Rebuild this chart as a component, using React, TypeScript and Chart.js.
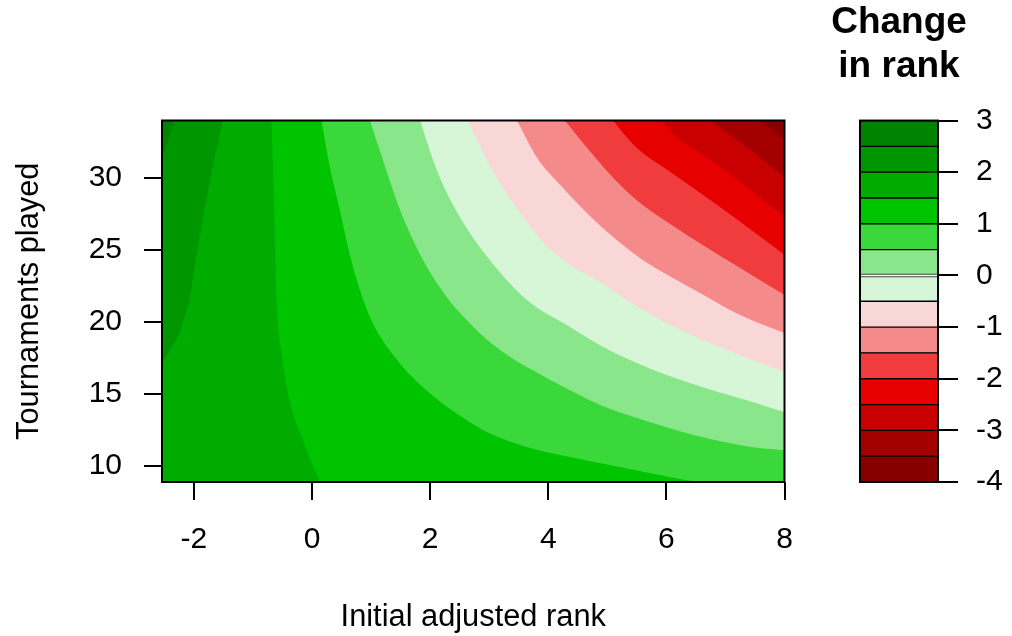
import React, { useEffect, useRef } from "react";
import { Chart, registerables } from "chart.js";

Chart.register(...registerables);

// Plot extent (initial adjusted rank × tournaments played)
const X_MIN = -2.54;
const X_MAX = 8;
const Y_MIN = 8.9;
const Y_MAX = 34;

const xTicks = [-2, 0, 2, 4, 6, 8];
const yTicks = [10, 15, 20, 25, 30];
const legendTicks = [-4, -3, -2, -1, 0, 1, 2, 3];

// Contour break points for change in rank
const levels = [-4, -3.5, -3, -2.5, -2, -1.5, -1, -0.5, 0, 0.5, 1, 1.5, 2, 2.5, 3];

// One colour per band, from [-4, -3.5] up to [2.5, 3]
const bandColors = [
  "#870000",
  "#A50000",
  "#C80000",
  "#E60000",
  "#F03C3C",
  "#F58A8A",
  "#FAD7D7",
  "#D7F5D7",
  "#8AE68A",
  "#3AD83A",
  "#00C400",
  "#00AC00",
  "#009600",
  "#008400",
];

// Contour lines [x, y]; each starts on the top edge of the plot
const contour25 = [[-2.33, 34], [-2.44, 32.67], [-2.54, 31.28]];
const contour20 = [
  [-1.51, 34], [-1.68, 30.81], [-1.82, 27.8], [-1.96, 24.55], [-2.07, 21.54],
  [-2.24, 19.24], [-2.5, 17.36], [-2.54, 17.15],
];
const contour15 = [
  [-0.69, 34], [-0.66, 30.81], [-0.63, 26.18], [-0.6, 21.54], [-0.52, 18.06],
  [-0.38, 14.58], [-0.15, 11.8], [0.13, 9.03], [0.16, 8.9],
];
const contour10 = [
  [0.16, 34], [0.3, 30.81], [0.47, 27.8], [0.64, 24.67], [0.81, 22.23],
  [1.03, 19.92], [1.49, 17.13], [2.0, 15.05], [2.45, 13.65], [3.01, 12.26],
  [3.63, 11.33], [4.37, 10.63], [4.93, 10.17], [5.78, 9.48], [6.69, 8.9],
];
const contour05 = [
  [0.98, 34], [1.2, 31.28], [1.49, 27.8], [1.88, 24.32], [2.28, 21.75],
  [2.62, 20.15], [3.01, 18.62], [3.44, 17.36], [3.86, 16.39], [4.37, 15.27],
  [4.93, 14.16], [5.78, 12.98], [6.62, 12.0], [7.47, 11.31], [8, 11.1],
];
const contour00 = [
  [1.83, 34], [2.11, 30.58], [2.5, 27.31], [3.01, 24.32], [3.64, 21.54],
  [4.37, 19.66], [4.93, 18.27], [5.78, 16.67], [6.62, 15.48], [7.47, 14.44],
  [8, 13.74],
];
const contourM05 = [
  [2.64, 34], [3.01, 30.86], [3.47, 27.87], [3.91, 25.57], [4.37, 23.97],
  [4.88, 22.79], [5.33, 21.54], [5.78, 20.42], [6.62, 18.75], [7.47, 17.36],
  [8, 16.53],
];
const contourM10 = [
  [3.47, 34], [3.81, 31.42], [4.2, 29.54], [4.88, 26.69], [5.55, 24.46],
  [6.11, 23.07], [6.69, 21.75], [7.25, 20.49], [8, 19.24],
];
const contourM15 = [
  [4.28, 34], [4.71, 31.84], [5.13, 29.89], [5.55, 28.29], [6.11, 26.69],
  [6.69, 25.16], [7.25, 23.76], [8, 21.89],
];
const contourM20 = [
  [5.1, 34], [5.32, 32.88], [5.55, 31.91], [6.11, 30.31], [6.69, 28.64],
  [7.25, 26.97], [8, 24.67],
];
const contourM25 = [[5.93, 34], [6.11, 33.09], [6.69, 31.42], [7.25, 29.75], [8, 27.31]];
const contourM30 = [[6.74, 34], [7.37, 32.12], [8, 30.03]];
const contourM35 = [[7.59, 34], [8, 32.67]];

// Contour for each break, from 2.5 down to -3.5 (null = whole plot, below 3)
const contoursByLevel: (number[][] | null)[] = [
  null,
  contour25,
  contour20,
  contour15,
  contour10,
  contour05,
  contour00,
  contourM05,
  contourM10,
  contourM15,
  contourM20,
  contourM25,
  contourM30,
  contourM35,
];

const FONT = "'Liberation Sans', Arial, Helvetica, sans-serif";
const INK = "#000";

const near = (a: number, b: number) => Math.abs(a - b) < 1e-6;

// Area where the value lies below a contour, as a line dataset filled
// towards the plot edge on the low-value side.
function regionBelow(curve: number[][] | null) {
  if (!curve) {
    return { pts: [[X_MIN, Y_MIN], [X_MAX, Y_MIN]], fill: "end", smooth: false };
  }
  const [lx, ly] = curve[curve.length - 1];
  if (near(lx, X_MIN)) {
    // runs from the top edge to the left edge: fill everything beneath it
    const pts = curve.slice().reverse();
    pts.push([X_MAX, Y_MAX]);
    return { pts, fill: "start", smooth: false };
  }
  if (near(ly, Y_MIN)) {
    // runs from the top edge to the bottom edge
    return { pts: [...curve, [X_MAX, Y_MIN]], fill: "end", smooth: true };
  }
  // runs from the top edge to the right edge
  return { pts: curve.slice(), fill: "end", smooth: true };
}

const plotFrame = {
  id: "plotFrame",
  afterDatasetsDraw(chart: any) {
    const { ctx, chartArea: a } = chart;
    ctx.save();
    ctx.strokeStyle = INK;
    ctx.lineWidth = 2;
    ctx.strokeRect(a.left, a.top, a.right - a.left, a.bottom - a.top);
    ctx.restore();
  },
};

const tickFont = { family: FONT, size: 30, lineHeight: 1.2 };
const titleFont = { family: FONT, size: 30.8, lineHeight: 1.2 };

const noEdgePadding = (s: any) => {
  s.paddingLeft = 0;
  s.paddingRight = 0;
  s.paddingTop = 0;
  s.paddingBottom = 0;
};

const PANEL_W = 820;

function ContourPanel() {
  const ref = useRef<HTMLCanvasElement | null>(null);
  useEffect(() => {
    if (!ref.current) return;
    const nBands = bandColors.length;
    // outermost region first in this list; reversed so inner regions paint on top
    const datasets = contoursByLevel
      .map((curve, i) => {
        const r = regionBelow(curve);
        return {
          data: r.pts.map(([x, y]) => ({ x, y })),
          backgroundColor: bandColors[nBands - 1 - i],
          borderColor: "rgba(0,0,0,0)",
          borderWidth: 0,
          pointRadius: 0,
          tension: 0,
          cubicInterpolationMode: r.smooth ? "monotone" : "default",
          fill: r.fill,
        };
      })
      .reverse();

    const chart = new Chart(ref.current, {
      type: "line",
      data: { datasets } as any,
      options: {
        responsive: false,
        animation: false,
        devicePixelRatio: 1,
        layout: {
          autoPadding: false,
          padding: { top: 120.5, right: PANEL_W - 784.5, left: 0, bottom: 0 },
        },
        plugins: {
          legend: { display: false },
          tooltip: { enabled: false },
          title: { display: false },
        },
        scales: {
          x: {
            type: "linear",
            min: X_MIN,
            max: X_MAX,
            afterBuildTicks: (s: any) => {
              s.ticks = xTicks.map((v) => ({ value: v }));
            },
            afterFit: (s: any) => {
              s.height = 154;
              noEdgePadding(s);
            },
            grid: {
              drawOnChartArea: false,
              drawTicks: true,
              tickLength: 18,
              color: INK,
              lineWidth: 2,
            },
            border: { display: false },
            ticks: {
              font: tickFont,
              color: INK,
              padding: 22,
              maxRotation: 0,
              autoSkip: false,
              callback: (v: any) => String(v),
            },
            title: {
              display: true,
              text: "Initial adjusted rank",
              font: titleFont,
              color: INK,
              padding: { top: 0, bottom: 0 },
            },
          },
          y: {
            type: "linear",
            min: Y_MIN,
            max: Y_MAX,
            afterBuildTicks: (s: any) => {
              s.ticks = yTicks.map((v) => ({ value: v }));
            },
            afterFit: (s: any) => {
              s.width = 162;
              noEdgePadding(s);
            },
            grid: {
              drawOnChartArea: false,
              drawTicks: true,
              tickLength: 18,
              color: INK,
              lineWidth: 2,
            },
            border: { display: false },
            ticks: {
              font: tickFont,
              color: INK,
              padding: 22,
              autoSkip: false,
              callback: (v: any) => String(v),
            },
            title: {
              display: true,
              text: "Tournaments played",
              font: titleFont,
              color: INK,
              padding: { top: 11.4, bottom: 0 },
            },
          },
        },
      } as any,
      plugins: [plotFrame],
    });
    return () => chart.destroy();
  }, []);
  return (
    <canvas
      ref={ref}
      width={PANEL_W}
      height={636}
      style={{ position: "absolute", left: 0, top: 0, width: PANEL_W, height: 636 }}
    />
  );
}

function ColorKey() {
  const ref = useRef<HTMLCanvasElement | null>(null);
  useEffect(() => {
    if (!ref.current) return;
    const datasets = bandColors.map((c, i) => ({
      data: [[levels[i], levels[i + 1]]],
      backgroundColor: c,
      borderColor: INK,
      borderWidth: 1,
      borderSkipped: false,
      grouped: false,
      barPercentage: 1,
      categoryPercentage: 1,
      yAxisID: "y",
    }));
    const chart = new Chart(ref.current, {
      type: "bar",
      data: { labels: [""], datasets } as any,
      options: {
        responsive: false,
        animation: false,
        devicePixelRatio: 1,
        layout: { autoPadding: false, padding: { top: 0, left: 0, right: 0, bottom: 154 } },
        plugins: {
          legend: { display: false },
          tooltip: { enabled: false },
          title: {
            display: true,
            text: ["Change", "in rank"],
            color: INK,
            align: "center",
            font: { family: FONT, size: 37, weight: "bold", lineHeight: 1.19 },
            padding: { top: 1.2, bottom: 31.3 },
          },
        },
        scales: {
          x: { display: false },
          // empty margin on the left so the key sits centred under its title
          margin: {
            type: "linear",
            position: "left",
            min: 0,
            max: 1,
            ticks: { display: false },
            grid: { display: false },
            border: { display: false },
            afterFit: (s: any) => {
              s.width = 74;
              noEdgePadding(s);
            },
          },
          y: {
            type: "linear",
            position: "right",
            min: levels[0],
            max: levels[levels.length - 1],
            afterBuildTicks: (s: any) => {
              s.ticks = legendTicks.map((v) => ({ value: v }));
            },
            afterFit: (s: any) => {
              s.width = 74;
              noEdgePadding(s);
            },
            grid: {
              drawOnChartArea: false,
              drawTicks: true,
              tickLength: 20,
              color: INK,
              lineWidth: 2,
            },
            border: { display: false },
            ticks: {
              font: tickFont,
              color: INK,
              padding: 18,
              autoSkip: false,
              callback: (v: any) => String(v),
            },
          },
        },
      } as any,
      plugins: [plotFrame],
    });
    return () => chart.destroy();
  }, []);
  return (
    <canvas
      ref={ref}
      width={226}
      height={636}
      style={{ position: "absolute", left: 786, top: 0, width: 226, height: 636 }}
    />
  );
}

export default function App() {
  return (
    <div
      style={{
        position: "fixed",
        left: 0,
        top: 0,
        width: 1012,
        height: 636,
        background: "#fff",
        overflow: "hidden",
      }}
    >
      <ContourPanel />
      <ColorKey />
    </div>
  );
}
